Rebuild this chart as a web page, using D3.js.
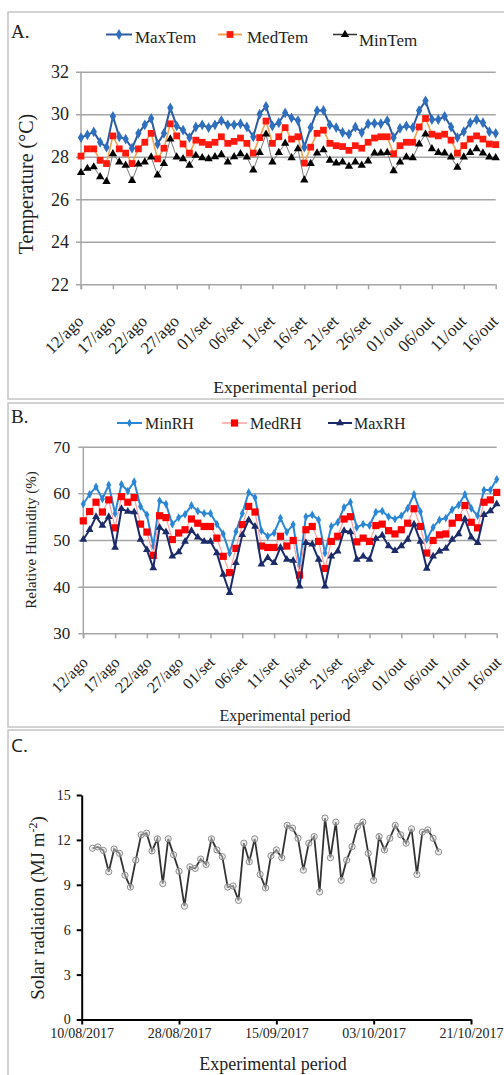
<!DOCTYPE html>
<html>
<head>
<meta charset="utf-8">
<script src="https://cdn.jsdelivr.net/npm/d3@7"></script>
<style>
  body { margin: 0; background: #fff; }
  svg text { font-family: "Liberation Serif", "DejaVu Serif", serif; fill: #222; }
</style>
</head>
<body>
<div id="chart"></div>
<script>
// tick labels for panels A and B (one every 5 days, 12/ago .. 16/out)
var dayTicks = ["12/ago","17/ago","22/ago","27/ago","01/set","06/set","11/set","16/set","21/set","26/set","01/out","06/out","11/out","16/out"];

// A. air temperature (°C), daily, 12/ago .. 16/out
var maxTem = [28.9,29.03,29.17,28.68,28.45,29.9,28.94,28.83,28.4,29.1,29.5,29.8,28.6,29.1,30.3,29.45,29.25,28.9,29.4,29.5,29.37,29.5,29.7,29.5,29.5,29.55,29.4,28.94,30.0,30.37,29.45,29.6,30.06,
  29.83,29.7,28.45,29.37,30.17,30.18,29.5,29.37,29.14,29.06,29.4,29.14,29.55,29.57,29.55,29.7,28.9,29.34,29.45,29.37,30.17,30.63,29.75,29.75,29.9,29.4,28.9,29.18,29.6,29.75,29.6,29.18,29.1];
var medTem = [28.03,28.37,28.37,27.83,27.68,28.98,28.37,28.17,27.68,28.37,28.68,29.1,27.9,28.4,29.55,28.98,28.6,28.17,28.78,28.68,28.57,28.68,28.94,28.63,28.72,28.88,28.63,28.17,28.9,29.68,28.63,28.94,29.37,
  28.83,28.94,27.7,28.45,29.1,29.25,28.63,28.52,28.48,28.3,28.52,28.4,28.68,28.88,28.94,28.94,28.14,28.52,28.68,28.68,29.4,29.8,29.06,28.98,29.06,28.78,28.17,28.52,28.83,28.98,28.83,28.6,28.57];
var minTem = [27.25,27.45,27.52,27.06,26.83,28.14,27.75,27.6,26.88,27.65,27.75,27.98,27.14,27.68,28.83,27.98,27.9,27.6,28.06,27.95,27.9,28.0,28.1,27.75,28.0,28.14,27.98,27.37,28.2,29.06,27.75,28.2,28.63,
  27.95,28.37,26.9,27.68,28.17,28.32,27.83,27.7,27.75,27.55,27.75,27.6,27.8,28.17,28.17,28.2,27.34,27.75,27.98,27.95,28.6,29.06,28.37,28.2,28.17,27.98,27.5,27.98,28.2,28.37,28.17,27.98,27.95];

// B. relative humidity (%)
var minRH = [57.7,59.8,61.4,58.8,61.8,55.7,61.9,60.5,62.5,57.2,55.4,48.7,58.4,57.7,53.4,54.8,55.5,57.4,56.2,55.7,55.7,53.4,51.3,47.2,51.8,55.7,60.2,59.1,52.0,50.8,51.5,54.7,51.7,
  53.3,44.5,55.0,55.4,54.3,47.2,52.9,53.8,57.0,58.1,52.7,53.4,53.1,56.0,56.2,55.0,54.5,55.2,56.8,59.8,56.1,50.1,52.7,54.3,54.7,56.5,57.5,59.8,56.8,55.2,60.7,60.7,63.0];
var medRH = [54.1,56.1,58.1,56.0,58.6,52.6,59.3,58.1,59.1,53.4,51.7,46.7,55.2,54.8,50.1,51.5,52.2,54.5,53.6,52.9,52.9,50.4,46.5,43.0,48.2,53.3,57.2,56.0,48.7,48.4,48.4,50.8,48.7,
  49.9,42.5,52.2,52.9,49.7,43.9,49.7,50.8,54.5,55.0,49.6,50.4,49.7,53.1,53.4,52.0,51.3,52.2,53.6,56.7,52.9,47.2,49.9,51.1,51.3,53.6,54.8,57.4,53.8,52.6,58.1,58.6,60.2];
var maxRH = [50.1,52.2,55.0,53.1,55.0,48.4,56.7,56.1,56.0,50.1,47.9,44.0,52.7,51.7,46.5,47.4,49.7,52.0,50.6,49.7,49.7,47.2,42.6,38.7,45.1,51.1,54.3,52.9,44.8,46.2,45.1,48.4,45.8,
  45.6,40.1,49.4,49.1,45.8,40.1,46.5,47.6,52.0,51.7,45.8,46.5,45.8,50.3,51.0,48.7,47.7,48.7,50.1,53.4,49.7,43.9,46.5,47.6,48.2,50.1,51.3,54.5,50.6,49.4,55.4,56.2,57.7];

// C. solar radiation (MJ m-2), daily from 12/08/2017
var solarStart = "12/08/2017";
var solar = [11.44,11.53,11.3,9.87,11.39,11.1,9.64,8.85,10.65,12.34,12.45,11.26,12.07,9.08,12.07,11.0,9.91,7.57,10.2,10.09,10.72,10.36,12.07,11.33,10.88,8.85,8.92,7.96,11.78,10.54,12.07,9.69,8.79,
  10.94,11.33,10.81,12.97,12.79,12.11,9.98,11.78,12.22,8.52,13.46,10.81,13.19,9.3,10.65,11.55,12.9,13.19,11.1,9.3,12.22,11.33,12.11,12.97,12.34,11.78,12.74,9.69,12.52,12.67,12.11,11.2];
var solarTicks = ["10/08/2017","28/08/2017","15/09/2017","03/10/2017","21/10/2017"];

var serif = "'Liberation Serif', 'DejaVu Serif', serif";

var svg = d3.select("#chart").append("svg")
  .attr("width", 504)
  .attr("height", 1075)
  .attr("font-family", serif);

// panel frames
[[12, 387], [403, 324], [730, 360]].forEach(function(f) {
  svg.append("rect")
    .attr("x", 8).attr("y", f[0])
    .attr("width", 520).attr("height", f[1])
    .attr("fill", "none").attr("stroke", "#c4c4c4").attr("stroke-width", 1.5);
});

function drawSeries(values, x, y, lineColor, lineWidth, symbolType, symbolSize, symbolColor) {
  var g = svg.append("g");
  g.append("path").datum(values)
    .attr("fill", "none")
    .attr("stroke", lineColor)
    .attr("stroke-width", lineWidth)
    .attr("stroke-linejoin", "round")
    .attr("d", d3.line().x(function(d, i) { return x(i); }).y(function(d) { return y(d); }));
  g.selectAll("path.pt").data(values).enter().append("path")
    .attr("class", "pt")
    .attr("transform", function(d, i) { return "translate(" + x(i) + "," + y(d) + ")"; })
    .attr("d", d3.symbol().type(symbolType).size(symbolSize))
    .attr("fill", symbolColor);
}

function legendItem(x1, x2, ly, tx, ty, label, lineColor, lineWidth, symbolType, symbolSize, symbolColor, fs) {
  svg.append("line")
    .attr("x1", x1).attr("x2", x2).attr("y1", ly).attr("y2", ly)
    .attr("stroke", lineColor).attr("stroke-width", lineWidth);
  svg.append("path")
    .attr("transform", "translate(" + (x1 + x2) / 2 + "," + ly + ")")
    .attr("d", d3.symbol().type(symbolType).size(symbolSize))
    .attr("fill", symbolColor);
  svg.append("text").attr("x", tx).attr("y", ty)
    .style("font-family", serif).style("font-size", fs + "px").text(label);
}

function addText(x, y, label, fs, rotate) {
  var t = svg.append("text")
    .style("font-family", serif).style("font-size", fs + "px")
    .style("text-anchor", "middle").text(label);
  if (rotate) t.attr("transform", "translate(" + x + "," + y + ") rotate(-90)");
  else t.attr("x", x).attr("y", y);
  return t;
}

function gridPanel(x, y, yTicks, axisY, labelPad, fsY, fsX, labelOffset) {
  var gy = svg.append("g")
    .attr("transform", "translate(" + x.range()[0] + ",0)")
    .call(d3.axisLeft(y).tickValues(yTicks)
      .tickSizeInner(-(x.range()[1] - x.range()[0])).tickSizeOuter(0).tickPadding(labelPad));
  gy.attr("font-family", serif).attr("font-size", null);
  gy.select(".domain").attr("stroke", "#a6a6a6").attr("stroke-width", 1.5)
    .attr("d", "M0," + y.range()[1] + "V" + (axisY + 5));
  gy.selectAll(".tick line").attr("x1", -5).attr("stroke", "#a6a6a6").attr("stroke-width", 1.5);
  gy.selectAll(".tick text").style("font-family", serif).style("font-size", fsY + "px");

  var gx = svg.append("g")
    .attr("transform", "translate(0," + axisY + ")")
    .call(d3.axisBottom(x).tickValues(d3.range(0, 66, 5))
      .tickFormat(function(d, i) { return dayTicks[i]; })
      .tickSizeInner(5).tickSizeOuter(0));
  gx.attr("font-family", serif).attr("font-size", null);
  gx.select(".domain").remove();
  gx.selectAll(".tick line").attr("stroke", "#a6a6a6").attr("stroke-width", 1.5);
  gx.selectAll(".tick text")
    .attr("x", 0).attr("y", 0).attr("dy", 0)
    .style("text-anchor", "end")
    .style("font-family", serif)
    .style("font-size", fsX + "px")
    .attr("transform", "translate(" + labelOffset[0] + "," + labelOffset[1] + ") rotate(-45)");
}

// ---------- A. temperature ----------
var xA = d3.scaleLinear().domain([0, maxTem.length - 1]).range([81, 495.7]);
var yA = d3.scaleLinear().domain([22, 32]).range([284.3, 71.7]);

gridPanel(xA, yA, d3.range(22, 33, 2), 284.3, 12, 18, 17, [3, 38]);

drawSeries(maxTem, xA, yA, "#2c5aa0", 2, d3.symbolDiamond, 34, "#2f6fbf");
drawSeries(medTem, xA, yA, "#f2a24e", 1.6, d3.symbolSquare, 46, "#ff1a0d");
drawSeries(minTem, xA, yA, "#7a7a7a", 1, d3.symbolTriangle, 30, "#000");

svg.append("text").attr("x", 11).attr("y", 38)
  .style("font-family", serif).style("font-size", "19px").text("A.");
legendItem(106, 132, 34.5, 135, 43, "MaxTem", "#2c5aa0", 2, d3.symbolDiamond, 34, "#2f6fbf", 17);
legendItem(218, 242, 34.5, 247, 43, "MedTem", "#f2a24e", 2, d3.symbolSquare, 46, "#ff1a0d", 17);
legendItem(333, 357, 34.5, 359, 46, "MinTem", "#333", 1.5, d3.symbolTriangle, 30, "#000", 17);

addText(33, 184, "Temperature (°C)", 20, true);
addText(285, 393, "Experimental period", 17.5);

// ---------- B. relative humidity ----------
var xB = d3.scaleLinear().domain([0, minRH.length - 1]).range([83.3, 496.7]);
var yB = d3.scaleLinear().domain([30, 70]).range([633.3, 446.7]);

gridPanel(xB, yB, d3.range(30, 71, 10), 633.3, 13, 17, 16, [5, 30]);

drawSeries(minRH, xB, yB, "#2b87d6", 2, d3.symbolDiamond, 22, "#2b87d6");
drawSeries(medRH, xB, yB, "#ff9f9f", 1.2, d3.symbolSquare, 52, "#ff0000");
drawSeries(maxRH, xB, yB, "#1b2a68", 2, d3.symbolTriangle, 26, "#1b2a68");

svg.append("text").attr("x", 11).attr("y", 423)
  .style("font-family", serif).style("font-size", "19px").text("B.");
legendItem(117, 142, 423, 145, 429, "MinRH", "#2b87d6", 2, d3.symbolDiamond, 22, "#2b87d6", 16);
legendItem(222, 247, 423, 250, 429, "MedRH", "#ff9f9f", 1.5, d3.symbolSquare, 52, "#ff0000", 16);
legendItem(328, 352, 423, 354, 429, "MaxRH", "#1b2a68", 2, d3.symbolTriangle, 26, "#1b2a68", 16);

addText(36, 540, "Relative Humidity (%)", 15, true);
addText(285, 721, "Experimental period", 16);

// ---------- C. solar radiation ----------
var parseDay = d3.timeParse("%d/%m/%Y");
var solarDates = solar.map(function(d, i) { return d3.timeDay.offset(parseDay(solarStart), i); });

var xC = d3.scaleTime()
  .domain([parseDay(solarTicks[0]), parseDay(solarTicks[solarTicks.length - 1])])
  .range([81.7, 471]);
var yC = d3.scaleLinear().domain([0, 15]).range([1019.5, 795]);

var gyC = svg.append("g")
  .attr("transform", "translate(81.7,0)")
  .call(d3.axisLeft(yC).tickValues([0, 3, 6, 9, 12, 15]).tickSizeInner(5).tickSizeOuter(0).tickPadding(6));
gyC.attr("font-family", serif).attr("font-size", null);
gyC.selectAll(".domain, .tick line").attr("stroke", "#000").attr("stroke-width", 2);
gyC.selectAll(".tick text").style("font-family", serif).style("font-size", "14px");

var gxC = svg.append("g")
  .attr("transform", "translate(0,1019.5)")
  .call(d3.axisBottom(xC).tickValues(solarTicks.map(parseDay))
    .tickFormat(d3.timeFormat("%d/%m/%Y")).tickSizeInner(5).tickSizeOuter(0).tickPadding(4));
gxC.attr("font-family", serif).attr("font-size", null);
gxC.selectAll(".domain, .tick line").attr("stroke", "#000").attr("stroke-width", 2);
gxC.selectAll(".tick text").style("font-family", serif).style("font-size", "14px");

svg.append("path").datum(solar)
  .attr("fill", "none").attr("stroke", "#333").attr("stroke-width", 1.8)
  .attr("d", d3.line().x(function(d, i) { return xC(solarDates[i]); }).y(function(d) { return yC(d); }));
svg.selectAll("circle.sol").data(solar).enter().append("circle")
  .attr("class", "sol")
  .attr("cx", function(d, i) { return xC(solarDates[i]); })
  .attr("cy", function(d) { return yC(d); })
  .attr("r", 3.1)
  .attr("fill", "rgba(225,225,225,0.45)")
  .attr("stroke", "#8c8c8c").attr("stroke-width", 1);

svg.append("text").attr("x", 11).attr("y", 752)
  .style("font-family", "'Open Sans', 'Liberation Sans', sans-serif").style("font-size", "19px")
  .text("C.");

var yTitle = addText(44, 908, "", 19, true);
yTitle.append("tspan").text("Solar radiation (MJ m");
yTitle.append("tspan").attr("dy", -7).style("font-size", "12px").text("-2");
yTitle.append("tspan").attr("dy", 7).text(")");

addText(273, 1070, "Experimental period", 18);
</script>
</body>
</html>
